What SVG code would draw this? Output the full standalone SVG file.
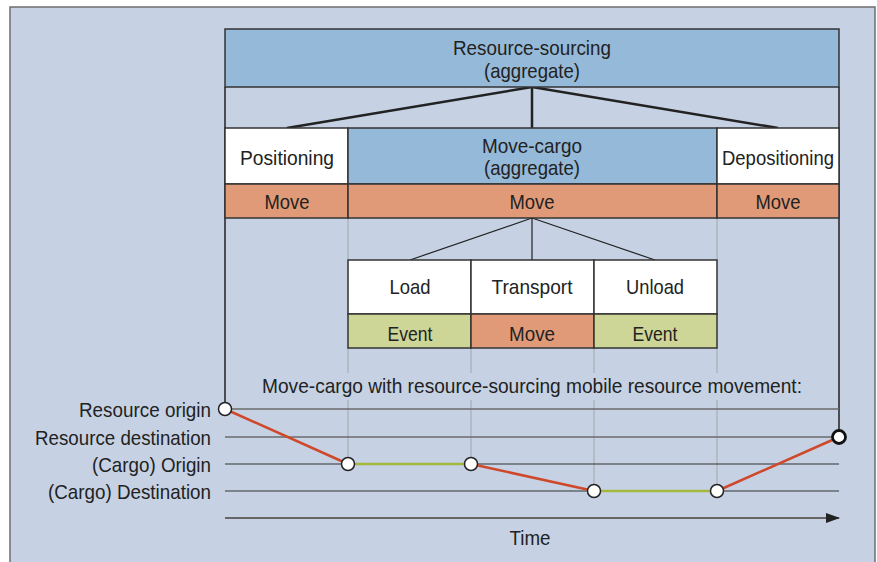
<svg xmlns="http://www.w3.org/2000/svg" width="877" height="562" viewBox="0 0 877 562">
<style>
text{font-family:"Liberation Sans Narrow","Liberation Sans",Arial,sans-serif;font-size:21px;fill:#222;text-anchor:middle;dominant-baseline:central}
.lbl{text-anchor:end}
.box{stroke:#333;stroke-width:1.5}
.agg{fill:#95b9d8}
.wht{fill:#fff}
.mov{fill:#e09a78}
.evt{fill:#cdd697}
.guide{stroke:#a8adb5;stroke-width:1.2;fill:none}
.pt{fill:#fff;stroke:#222;stroke-width:1.5}
</style>
<defs>
<marker id="arr" markerWidth="14" markerHeight="10" refX="13" refY="5" orient="auto" markerUnits="userSpaceOnUse">
<path d="M0,0 L14,5 L0,10 Z" fill="#222"/>
</marker>
</defs>
<rect x="10" y="7" width="865" height="570" fill="#c6d2e4" stroke="#6d6d6d" stroke-width="1.5"/>

<g id="connectors">
<path d="M225,87 V409 M839,87 V437" stroke="#222" stroke-width="1.5" fill="none"/>
<path d="M532,87 L287,128 M532,87 V128 M532,87 L778,128" stroke="#222" stroke-width="2.5" fill="none"/>
<path d="M532,218 L410,260 M532,218 V260 M532,218 L655,260" stroke="#222" stroke-width="1.2" fill="none"/>
<path class="guide" d="M348,218 V260 M717,218 V260 M348,348 V373 M471,348 V373 M594,348 V373 M717,348 V373 M348,400 V464 M471,400 V464 M594,400 V491 M717,400 V491"/>
</g>

<g id="axes">
<line x1="225" y1="409" x2="839" y2="409" stroke="#6a6a6a" stroke-width="1.5"/>
<line x1="225" y1="437" x2="839" y2="437" stroke="#6a6a6a" stroke-width="1.5"/>
<line x1="225" y1="464" x2="839" y2="464" stroke="#333" stroke-width="1.2"/>
<line x1="225" y1="491" x2="839" y2="491" stroke="#333" stroke-width="1.2"/>
<line x1="225" y1="518" x2="839" y2="518" stroke="#666" stroke-width="2" marker-end="url(#arr)"/>
<text x="530" y="537" textLength="41" lengthAdjust="spacingAndGlyphs">Time</text>
</g>

<g id="labels">
<text class="lbl" x="211" y="409" textLength="132" lengthAdjust="spacingAndGlyphs">Resource origin</text>
<text class="lbl" x="211" y="437" textLength="176" lengthAdjust="spacingAndGlyphs">Resource destination</text>
<text class="lbl" x="211" y="464" textLength="119" lengthAdjust="spacingAndGlyphs">(Cargo) Origin</text>
<text class="lbl" x="211" y="491" textLength="163" lengthAdjust="spacingAndGlyphs">(Cargo) Destination</text>
<text x="532" y="385" textLength="540" lengthAdjust="spacingAndGlyphs">Move-cargo with resource-sourcing mobile resource movement:</text>
</g>

<g id="path">
<polyline points="225,409 348,464" fill="none" stroke="#d0482a" stroke-width="2.5"/>
<polyline points="348,464 471,464" fill="none" stroke="#a3b83c" stroke-width="2.5"/>
<polyline points="471,464 594,491" fill="none" stroke="#d0482a" stroke-width="2.5"/>
<polyline points="594,491 717,491" fill="none" stroke="#a3b83c" stroke-width="2.5"/>
<polyline points="717,491 839,437" fill="none" stroke="#d0482a" stroke-width="2.5"/>
<circle class="pt" cx="225" cy="409" r="6.5"/>
<circle class="pt" cx="348" cy="464" r="6.5"/>
<circle class="pt" cx="471" cy="464" r="6.5"/>
<circle class="pt" cx="594" cy="491" r="6.5"/>
<circle class="pt" cx="717" cy="491" r="6.5"/>
<circle cx="839" cy="437" r="6.5" fill="#fff" stroke="#111" stroke-width="2.8"/>
</g>

<g id="resource-sourcing">
<rect class="box agg" x="225" y="29" width="614" height="58"/>
<text x="532" y="47" textLength="158" lengthAdjust="spacingAndGlyphs">Resource-sourcing</text>
<text x="532" y="70" textLength="96" lengthAdjust="spacingAndGlyphs">(aggregate)</text>
</g>
<g id="positioning">
<rect class="box wht" x="225" y="128" width="123" height="56"/>
<text x="287" y="157" textLength="94" lengthAdjust="spacingAndGlyphs">Positioning</text>
<rect class="box mov" x="225" y="184" width="123" height="34"/>
<text x="287" y="201" textLength="45" lengthAdjust="spacingAndGlyphs">Move</text>
</g>
<g id="move-cargo">
<rect class="box agg" x="348" y="128" width="369" height="56"/>
<text x="532" y="145" textLength="100" lengthAdjust="spacingAndGlyphs">Move-cargo</text>
<text x="532" y="167" textLength="96" lengthAdjust="spacingAndGlyphs">(aggregate)</text>
<rect class="box mov" x="348" y="184" width="369" height="34"/>
<text x="532" y="201" textLength="45" lengthAdjust="spacingAndGlyphs">Move</text>
</g>
<g id="depositioning">
<rect class="box wht" x="717" y="128" width="122" height="56"/>
<text x="778" y="157" textLength="112" lengthAdjust="spacingAndGlyphs">Depositioning</text>
<rect class="box mov" x="717" y="184" width="122" height="34"/>
<text x="778" y="201" textLength="45" lengthAdjust="spacingAndGlyphs">Move</text>
</g>
<g id="load">
<rect class="box wht" x="348" y="260" width="123" height="54"/>
<text x="410" y="286" textLength="41" lengthAdjust="spacingAndGlyphs">Load</text>
<rect class="box evt" x="348" y="314" width="123" height="34"/>
<text x="410" y="333" textLength="45" lengthAdjust="spacingAndGlyphs">Event</text>
</g>
<g id="transport">
<rect class="box wht" x="471" y="260" width="123" height="54"/>
<text x="532" y="286" textLength="81" lengthAdjust="spacingAndGlyphs">Transport</text>
<rect class="box mov" x="471" y="314" width="123" height="34"/>
<text x="532" y="333" textLength="46" lengthAdjust="spacingAndGlyphs">Move</text>
</g>
<g id="unload">
<rect class="box wht" x="594" y="260" width="123" height="54"/>
<text x="655" y="286" textLength="58" lengthAdjust="spacingAndGlyphs">Unload</text>
<rect class="box evt" x="594" y="314" width="123" height="34"/>
<text x="655" y="333" textLength="45" lengthAdjust="spacingAndGlyphs">Event</text>
</g>
</svg>
